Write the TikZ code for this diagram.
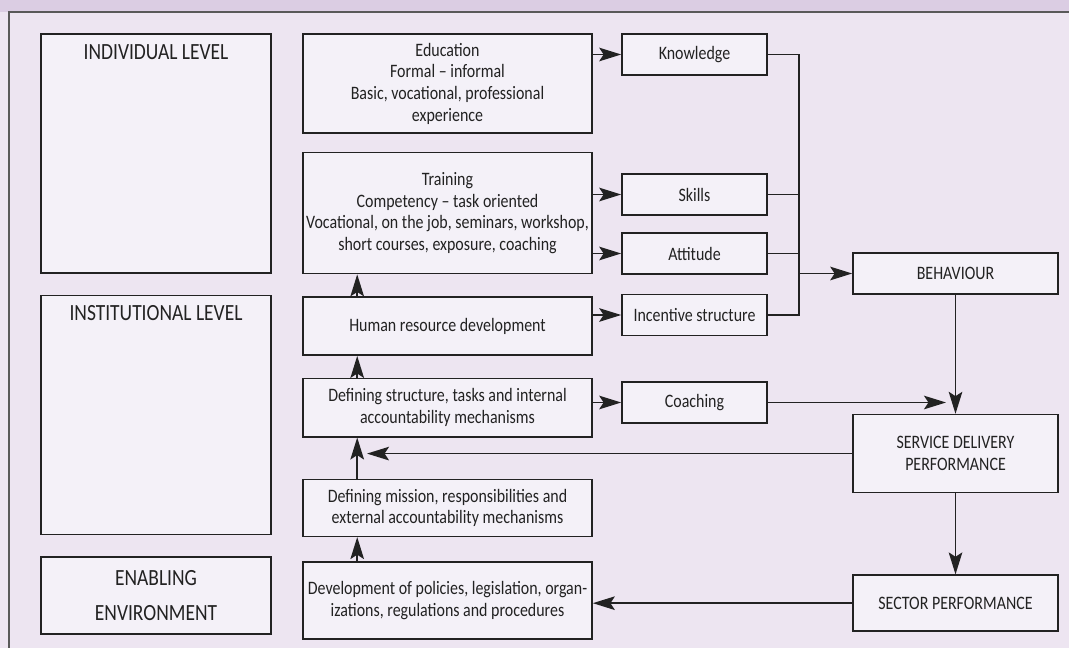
\documentclass[tikz,border=0pt]{standalone}
\usepackage{fontspec}
\setmainfont{Carlito}[FakeStretch=0.84]
\usepackage{tikz}
\usetikzlibrary{arrows.meta, positioning}

\definecolor{bandlilac}{HTML}{DBCDE3}
\definecolor{panellilac}{HTML}{EDE5F1}
\definecolor{boxlilac}{HTML}{F4F1F8}
\definecolor{inkgray}{HTML}{222222}

\begin{document}
\begin{tikzpicture}[
  x=0.025cm, y=-0.025cm,
  >={Stealth[length=5.5mm, width=3.4mm, inset=1.1mm]},
  every node/.style={font=\fontsize{13.5}{15.4}\selectfont, text=inkgray},
  box/.style={draw=inkgray, line width=1.1pt, fill=boxlilac, align=center, inner sep=1pt},
  levelbox/.style={box, minimum width=5.75cm, font=\fontsize{16.5}{19}\selectfont},
  midbox/.style={box, minimum width=7.225cm},
  smallbox/.style={box, minimum width=3.625cm, minimum height=1.025cm},
  outbox/.style={box, minimum width=5.125cm},
  link/.style={draw=inkgray, line width=1.1pt}
]
\useasboundingbox (0,0) rectangle (1069,648);
\fill[panellilac] (0,0) rectangle (1069,648);
\fill[bandlilac] (0,0) rectangle (1069,12);
\draw[draw=inkgray!75, line width=1.5pt] (9,648) -- (9,12) -- (1069,12);

% levels
\node[levelbox, minimum height=5.975cm, label={[anchor=north, yshift=-1.5mm, font=\fontsize{16.5}{19}\selectfont]north:INDIVIDUAL LEVEL}] (indiv) at (156,153.5) {};
\node[levelbox, minimum height=5.975cm, below=0.525cm of indiv, label={[anchor=north, yshift=-1.5mm, font=\fontsize{16.5}{19}\selectfont]north:INSTITUTIONAL LEVEL}] (instit) {};
\node[levelbox, minimum height=1.925cm, below=0.525cm of instit] (enabl) {ENABLING\\[5.5pt]ENVIRONMENT};

% middle column
\node[midbox, minimum height=2.475cm] (edu) at (447.5,83.5) {Education\\Formal -- informal\\Basic, vocational, professional\\experience};
\node[midbox, minimum height=3.025cm, below=0.45cm of edu] (train) {Training\\Competency -- task oriented\\Vocational, on the job, seminars, workshop,\\short courses, exposure, coaching};
\node[midbox, minimum height=1.45cm, below=0.55cm of train] (hrd) {Human resource development};
\node[midbox, minimum height=1.45cm, below=0.55cm of hrd] (struct) {Defining structure, tasks and internal\\accountability mechanisms};
\node[midbox, minimum height=1.425cm, below=1.025cm of struct] (mission) {Defining mission, responsibilities and\\external accountability mechanisms};
\node[midbox, minimum height=1.925cm, below=0.6cm of mission] (dev) {Development of policies, legislation, organ-\\izations, regulations and procedures};

% outcomes
\node[smallbox] (know) at (694.5,54.5) {Knowledge};
\node[smallbox] (skills) at (694.5,194.5) {Skills};
\node[smallbox] (att) at (694.5,253.5) {Attitude};
\node[smallbox] (incent) at (694.5,315) {Incentive structure};
\node[smallbox] (coach) at (694.5,402.5) {Coaching};

% performance
\node[outbox, minimum height=1.025cm] (behav) at (955.5,273.5) {BEHAVIOUR};
\node[outbox, minimum height=1.95cm, below=2.975cm of behav] (sdp) {SERVICE DELIVERY\\PERFORMANCE};
\node[outbox, minimum height=1.4cm, below=2.025cm of sdp] (sector) {SECTOR PERFORMANCE};

\coordinate (bus) at (799,0);
\coordinate (merge) at (946,0);
\coordinate (ret) at (367,0);

\draw[link, ->] (edu.east |- know.west) -- (know.west);
\draw[link, ->] (train.east |- skills.west) -- (skills.west);
\draw[link, ->] (train.east |- att.west) -- (att.west);
\draw[link, ->] (hrd.east |- incent.west) -- (incent.west);
\draw[link, ->] (struct.east |- coach.west) -- (coach.west);

\draw[link] (know.east) -- (know.east -| bus) -- (incent.east -| bus) -- (incent.east);
\draw[link] (skills.east) -- (skills.east -| bus);
\draw[link] (att.east) -- (att.east -| bus);
\draw[link, ->] (behav.west -| bus) -- (behav.west);

\draw[link, ->] (behav) -- (sdp);
\draw[link, ->] (sdp) -- (sector);
\draw[link, ->] (coach.east) -- (coach.east -| merge);
\draw[link, ->] (sdp.west) -- (sdp.west -| ret);
\draw[link, ->] (sector.west) -- (sector.west -| dev.east);

\draw[link, ->] ([xshift=1.375cm]hrd.north west) -- ([xshift=1.375cm]train.south west);
\draw[link, ->] ([xshift=1.375cm]struct.north west) -- ([xshift=1.375cm]hrd.south west);
\draw[link, ->] ([xshift=1.375cm]mission.north west) -- ([xshift=1.375cm]struct.south west);
\draw[link, ->] ([xshift=1.375cm]dev.north west) -- ([xshift=1.375cm]mission.south west);
\end{tikzpicture}
\end{document}
